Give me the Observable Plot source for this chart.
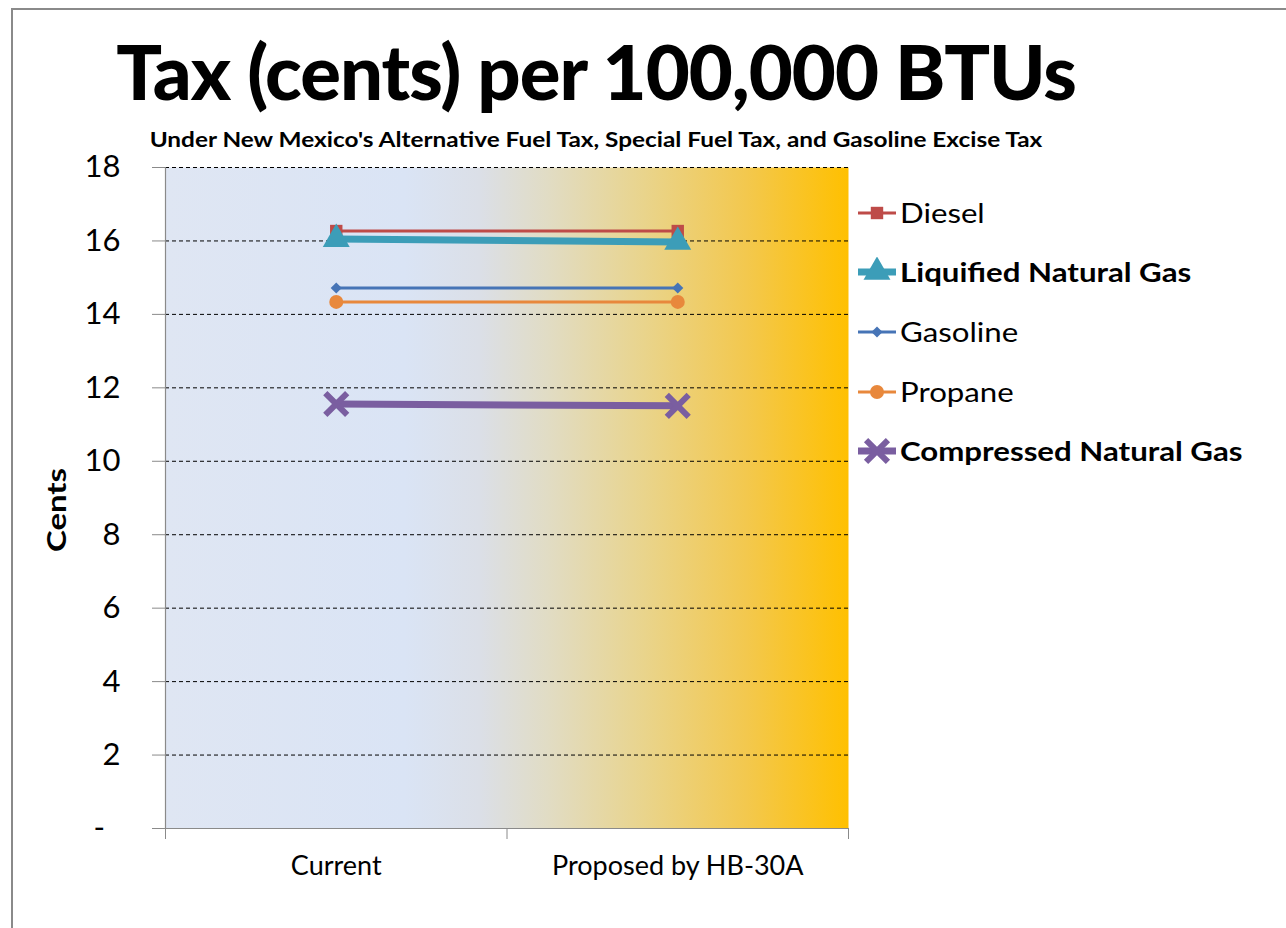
<!DOCTYPE html>
<html>
<head>
<meta charset="utf-8">
<script src="https://cdn.jsdelivr.net/npm/d3@7"></script>
<script src="https://cdn.jsdelivr.net/npm/@observablehq/plot@0.6"></script>
<style>
  html, body { margin: 0; padding: 0; background: #fff; }
  #page { position: relative; width: 1286px; height: 928px; overflow: hidden; font-family: Lato, "Open Sans", sans-serif; color: #000; }
  #border { position: absolute; left: 11px; top: 8px; width: 1400px; height: 1000px; border: 2px solid #8a8a8a; box-sizing: border-box; }
  #title { position: absolute; left: 0; width: 1192px; top: 33px; text-align: center; font-weight: 900; font-size: 76px; line-height: 1; letter-spacing: -1px; }
  #subtitle { position: absolute; left: 0; width: 1192px; top: 128px; text-align: center; font-weight: bold; font-size: 21px; line-height: 1; transform: scaleX(1.16); transform-origin: 596px 0; }
  #chart { position: absolute; left: 0; top: 140px; }
  #ylabel { position: absolute; left: 55px; top: 510px; width: 0; height: 0; }
  #ylabel span { position: absolute; left: 0; top: 0; transform: translate(-50%, -50%) rotate(-90deg) scaleX(1.22); font-weight: bold; font-size: 27px; white-space: nowrap; line-height: 1; }
  #legend { position: absolute; left: 856px; top: 183px; }
  .item { display: flex; align-items: center; height: 59.6px; font-size: 26px; white-space: nowrap; }
  .item svg { margin-right: 2px; }
  .item span { display: inline-block; transform: scaleX(1.2); transform-origin: 0 50%; }
  .bold { font-weight: bold; }
</style>
</head>
<body>
<div id="page">
  <div id="border"></div>
  <div id="title">Tax (cents) per 100,000 BTUs</div>
  <div id="subtitle">Under New Mexico's Alternative Fuel Tax, Special Fuel Tax, and Gasoline Excise Tax</div>
  <div id="chart"></div>
  <div id="ylabel"><span>Cents</span></div>
  <div id="legend"></div>
</div>
<script>
// ---- data ----
const categories = ["Current", "Proposed by HB-30A"];
const seriesNames = ["Diesel", "Liquified Natural Gas", "Gasoline", "Propane", "Compressed Natural Gas"];
const diesel = [16.27, 16.27];
const lng = [16.05, 15.97];
const gasoline = [14.72, 14.72];
const propane = [14.34, 14.34];
const cng = [11.56, 11.51];
const yTicks = [0, 2, 4, 6, 8, 10, 12, 14, 16, 18];

// ---- styles ----
const styles = {
  "Diesel": {color: "#be4b48", width: 3, symbol: "square", r: 7, bold: false},
  "Liquified Natural Gas": {color: "#3c9db8", width: 7, symbol: "triangle", r: 10, bold: true},
  "Gasoline": {color: "#4674b6", width: 3, symbol: "diamond2", r: 5, bold: false},
  "Propane": {color: "#e8883c", width: 3, symbol: "circle", r: 7, bold: false},
  "Compressed Natural Gas": {color: "#7a5ea0", width: 7, symbol: "times", r: 10, bold: true}
};
const valuesBySeries = [diesel, lng, gasoline, propane, cng];
const rows = [];
seriesNames.forEach((s, i) => {
  valuesBySeries[i].forEach((v, j) => rows.push({series: s, pos: j + 0.5, cat: categories[j], value: v}));
});

const marks = [
  Plot.frame({fill: "url(#bgGrad)", stroke: "none"}),
  Plot.ruleY(yTicks.filter(d => d > 0), {stroke: "#000", strokeDasharray: "4,3", strokeWidth: 1}),
  Plot.axisY({ticks: yTicks, tickFormat: d => d === 0 ? "-\u2002" : d, tickSize: 13, tickPadding: 32, stroke: "#8a8a8a", label: null, fontSize: 31}),
  Plot.axisX({ticks: [0, 1, 2], tickSize: 11, tickFormat: () => "", stroke: "#8a8a8a", label: null}),
  Plot.axisX({ticks: [0.5, 1.5], tickSize: 0, tickPadding: 27, tickFormat: p => categories[Math.floor(p)], fontSize: 27, label: null}),
  Plot.ruleX([0], {stroke: "#8a8a8a", strokeWidth: 1.2}),
  Plot.ruleY([0], {stroke: "#8a8a8a", strokeWidth: 1.2})
];
seriesNames.forEach(s => {
  const st = styles[s];
  const data = rows.filter(r => r.series === s);
  marks.push(Plot.line(data, {x: "pos", y: "value", stroke: st.color, strokeWidth: st.width}));
});
seriesNames.forEach(s => {
  const st = styles[s];
  const data = rows.filter(r => r.series === s);
  if (st.symbol === "times") {
    marks.push(Plot.dot(data, {x: "pos", y: "value", symbol: "times", r: st.r, stroke: st.color, strokeWidth: 6}));
  } else {
    marks.push(Plot.dot(data, {x: "pos", y: "value", symbol: st.symbol, r: st.r, fill: st.color, stroke: "none"}));
  }
});

const chart = Plot.plot({
  width: 870,
  height: 748,
  marginTop: 27,
  marginLeft: 165,
  marginRight: 22,
  marginBottom: 60,
  x: {domain: [0, 2]},
  y: {domain: [0, 18]},
  style: {fontFamily: "Lato, 'Open Sans', sans-serif", color: "#000", background: "transparent", overflow: "visible"},
  marks
});

// gradient background definition
const svg = d3.select(chart);
svg.selectAll("text").attr("xml:space", "preserve").style("white-space", "pre");
const defs = svg.insert("defs", ":first-child");
const grad = defs.append("linearGradient").attr("id", "bgGrad").attr("x1", "0").attr("x2", "1").attr("y1", "0").attr("y2", "0");
[[0, "#dfe6f3"], [0.35, "#dae4f5"], [0.46, "#dbdfe7"], [0.56, "#e1dcc4"], [0.70, "#e9d48c"], [0.85, "#f3c84e"], [1, "#ffc000"]]
  .forEach(([o, c]) => grad.append("stop").attr("offset", o).attr("stop-color", c));

document.getElementById("chart").appendChild(chart);

// legend
const legend = d3.select("#legend");
seriesNames.forEach(s => {
  const st = styles[s];
  const item = legend.append("div").attr("class", "item" + (st.bold ? " bold" : ""));
  const sw = item.append("svg").attr("width", 42).attr("height", 30);
  sw.append("line").attr("x1", 2).attr("x2", 40).attr("y1", 15).attr("y2", 15).attr("stroke", st.color).attr("stroke-width", st.width);
  const sym = d3.symbol().type({square: d3.symbolSquare, triangle: d3.symbolTriangle, diamond2: d3.symbolDiamond2, circle: d3.symbolCircle, times: d3.symbolTimes}[st.symbol]).size(Math.PI * st.r * st.r);
  const p = sw.append("path").attr("d", sym()).attr("transform", "translate(21,15)");
  if (st.symbol === "times") p.attr("fill", "none").attr("stroke", st.color).attr("stroke-width", 6);
  else p.attr("fill", st.color);
  item.append("span").text(s);
});
</script>
</body>
</html>
